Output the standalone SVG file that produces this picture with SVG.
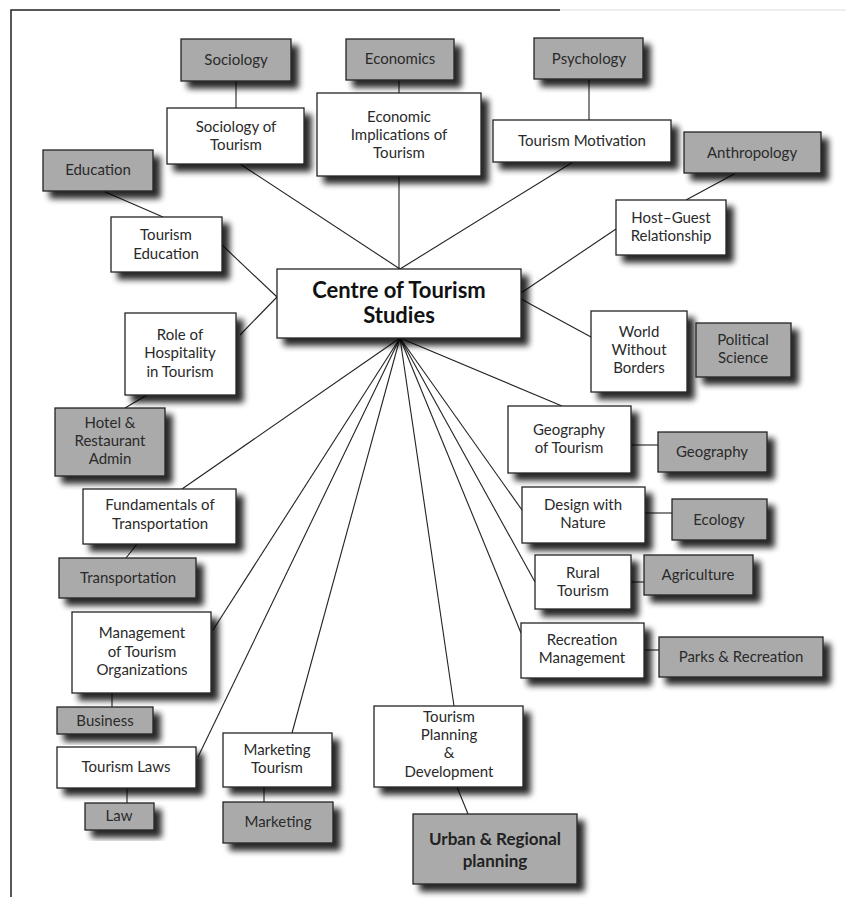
<svg xmlns="http://www.w3.org/2000/svg" width="846" height="899" viewBox="0 0 846 899">
<defs>
<filter id="sh" x="-20%" y="-20%" width="150%" height="160%">
<feGaussianBlur in="SourceAlpha" stdDeviation="3"/>
<feOffset dx="7" dy="7" result="b"/>
<feComponentTransfer><feFuncA type="linear" slope="0.85"/></feComponentTransfer>
<feMerge><feMergeNode/><feMergeNode in="SourceGraphic"/></feMerge>
</filter>
<style>
.w{fill:#fff;stroke:#222;stroke-width:1.3;filter:url(#sh)}
.g{fill:#aaaaaa;stroke:#222;stroke-width:1.3;filter:url(#sh)}
text{font-family:Lato,"Open Sans","Liberation Sans",sans-serif;font-size:15px;fill:#2a2a2a;text-anchor:middle}
.c{font-size:22px;font-weight:bold;fill:#111}
.u{font-size:17px;font-weight:bold;fill:#222}
#connectors line{stroke:#222;stroke-width:1.1}
</style>
</defs>
<rect width="846" height="899" fill="#fff"/>
<path d="M11,897 V10 H560" fill="none" stroke="#222" stroke-width="1.5"/>
<path d="M560,10 H846" fill="none" stroke="#ddd" stroke-width="1"/>
<g id="connectors">
<line x1="236" y1="81" x2="236" y2="108"/>
<line x1="103" y1="191" x2="163" y2="217"/>
<line x1="399" y1="80" x2="399" y2="93"/>
<line x1="589" y1="79" x2="589" y2="120"/>
<line x1="736" y1="173" x2="686" y2="200"/>
<line x1="240" y1="164" x2="400" y2="269"/>
<line x1="399" y1="176" x2="399" y2="269"/>
<line x1="573" y1="162" x2="400" y2="269"/>
<line x1="222" y1="245" x2="277" y2="297"/>
<line x1="240" y1="335" x2="277" y2="297"/>
<line x1="616" y1="229" x2="521" y2="293"/>
<line x1="521" y1="299" x2="591" y2="337"/>
<line x1="147" y1="395" x2="125" y2="408"/>
<line x1="400" y1="338" x2="182" y2="489"/>
<line x1="137" y1="544" x2="126" y2="558"/>
<line x1="400" y1="338" x2="213" y2="630"/>
<line x1="400" y1="338" x2="198" y2="757"/>
<line x1="400" y1="338" x2="292" y2="733"/>
<line x1="400" y1="338" x2="454" y2="706"/>
<line x1="400" y1="338" x2="521" y2="633"/>
<line x1="400" y1="338" x2="535" y2="582"/>
<line x1="400" y1="338" x2="522" y2="510"/>
<line x1="400" y1="338" x2="562" y2="406"/>
<line x1="631" y1="445" x2="658" y2="445"/>
<line x1="645" y1="513" x2="672" y2="513"/>
<line x1="631" y1="582" x2="644" y2="582"/>
<line x1="644" y1="650" x2="659" y2="650"/>
<line x1="112" y1="693" x2="112" y2="707"/>
<line x1="127" y1="788" x2="127" y2="803"/>
<line x1="264" y1="787" x2="264" y2="802"/>
<line x1="457" y1="787" x2="468" y2="814"/>
</g>
<g id="sociology"><rect class="g" x="181" y="39" width="110" height="42"/><text x="236" y="65">Sociology</text></g>
<g id="sociology-of-tourism"><rect class="w" x="167" y="108" width="137" height="56"/><text x="236" y="132">Sociology of</text><text x="236" y="150">Tourism</text></g>
<g id="education"><rect class="g" x="43" y="150" width="110" height="41"/><text x="98" y="175">Education</text></g>
<g id="tourism-education"><rect class="w" x="111" y="217" width="111" height="55"/><text x="166" y="240">Tourism</text><text x="166" y="259">Education</text></g>
<g id="economics"><rect class="g" x="346" y="39" width="108" height="41"/><text x="400" y="64">Economics</text></g>
<g id="economic-implications"><rect class="w" x="317" y="93" width="164" height="83"/><text x="399" y="122">Economic</text><text x="399" y="140">Implications of</text><text x="399" y="158">Tourism</text></g>
<g id="psychology"><rect class="g" x="534" y="38" width="109" height="41"/><text x="589" y="64">Psychology</text></g>
<g id="tourism-motivation"><rect class="w" x="493" y="120" width="178" height="42"/><text x="582" y="146">Tourism Motivation</text></g>
<g id="anthropology"><rect class="g" x="684" y="132" width="137" height="41"/><text x="752" y="158">Anthropology</text></g>
<g id="host-guest"><rect class="w" x="616" y="200" width="110" height="55"/><text x="671" y="223">Host–Guest</text><text x="671" y="241">Relationship</text></g>
<g id="centre"><rect class="w" x="277" y="269" width="244" height="69"/><text class="c" x="399" y="298">Centre of Tourism</text><text class="c" x="399" y="323">Studies</text></g>
<g id="role-hospitality"><rect class="w" x="125" y="313" width="111" height="82"/><text x="180" y="340">Role of</text><text x="180" y="358">Hospitality</text><text x="180" y="377">in Tourism</text></g>
<g id="hotel-admin"><rect class="g" x="55" y="408" width="110" height="68"/><text x="110" y="428">Hotel &amp;</text><text x="110" y="446">Restaurant</text><text x="110" y="464">Admin</text></g>
<g id="fundamentals"><rect class="w" x="83" y="489" width="153" height="55"/><text x="160" y="510">Fundamentals of</text><text x="160" y="529">Transportation</text></g>
<g id="transportation"><rect class="g" x="59" y="558" width="137" height="40"/><text x="128" y="583">Transportation</text></g>
<g id="world-without-borders"><rect class="w" x="591" y="311" width="96" height="81"/><text x="639" y="337">World</text><text x="639" y="355">Without</text><text x="639" y="373">Borders</text></g>
<g id="political-science"><rect class="g" x="696" y="323" width="95" height="54"/><text x="743" y="345">Political</text><text x="743" y="363">Science</text></g>
<g id="geography-of-tourism"><rect class="w" x="508" y="406" width="123" height="67"/><text x="569" y="435">Geography</text><text x="569" y="453">of Tourism</text></g>
<g id="geography"><rect class="g" x="658" y="432" width="109" height="40"/><text x="712" y="457">Geography</text></g>
<g id="design-nature"><rect class="w" x="522" y="487" width="123" height="56"/><text x="583" y="510">Design with</text><text x="583" y="528">Nature</text></g>
<g id="ecology"><rect class="g" x="672" y="499" width="95" height="41"/><text x="719" y="525">Ecology</text></g>
<g id="rural-tourism"><rect class="w" x="535" y="555" width="96" height="54"/><text x="583" y="578">Rural</text><text x="583" y="596">Tourism</text></g>
<g id="agriculture"><rect class="g" x="644" y="555" width="109" height="40"/><text x="698" y="580">Agriculture</text></g>
<g id="recreation-management"><rect class="w" x="521" y="623" width="123" height="55"/><text x="582" y="645">Recreation</text><text x="582" y="663">Management</text></g>
<g id="parks-recreation"><rect class="g" x="659" y="637" width="164" height="40"/><text x="741" y="662">Parks &amp; Recreation</text></g>
<g id="management-organizations"><rect class="w" x="72" y="612" width="139" height="81"/><text x="142" y="638">Management</text><text x="142" y="657">of Tourism</text><text x="142" y="675">Organizations</text></g>
<g id="business"><rect class="g" x="57" y="707" width="96" height="27"/><text x="105" y="726">Business</text></g>
<g id="tourism-laws"><rect class="w" x="57" y="747" width="139" height="41"/><text x="126" y="772">Tourism Laws</text></g>
<g id="law"><rect class="g" x="85" y="803" width="69" height="27"/><text x="119" y="821">Law</text></g>
<g id="marketing-tourism"><rect class="w" x="223" y="733" width="109" height="54"/><text x="277" y="755">Marketing</text><text x="277" y="773">Tourism</text></g>
<g id="marketing"><rect class="g" x="223" y="802" width="110" height="41"/><text x="278" y="827">Marketing</text></g>
<g id="tourism-planning"><rect class="w" x="374" y="706" width="149" height="81"/><text x="449" y="722">Tourism</text><text x="449" y="740">Planning</text><text x="449" y="758">&amp;</text><text x="449" y="777">Development</text></g>
<g id="urban-regional"><rect class="g" x="413" y="814" width="164" height="70"/><text class="u" x="495" y="845">Urban &amp; Regional</text><text class="u" x="495" y="867">planning</text></g>
</svg>
